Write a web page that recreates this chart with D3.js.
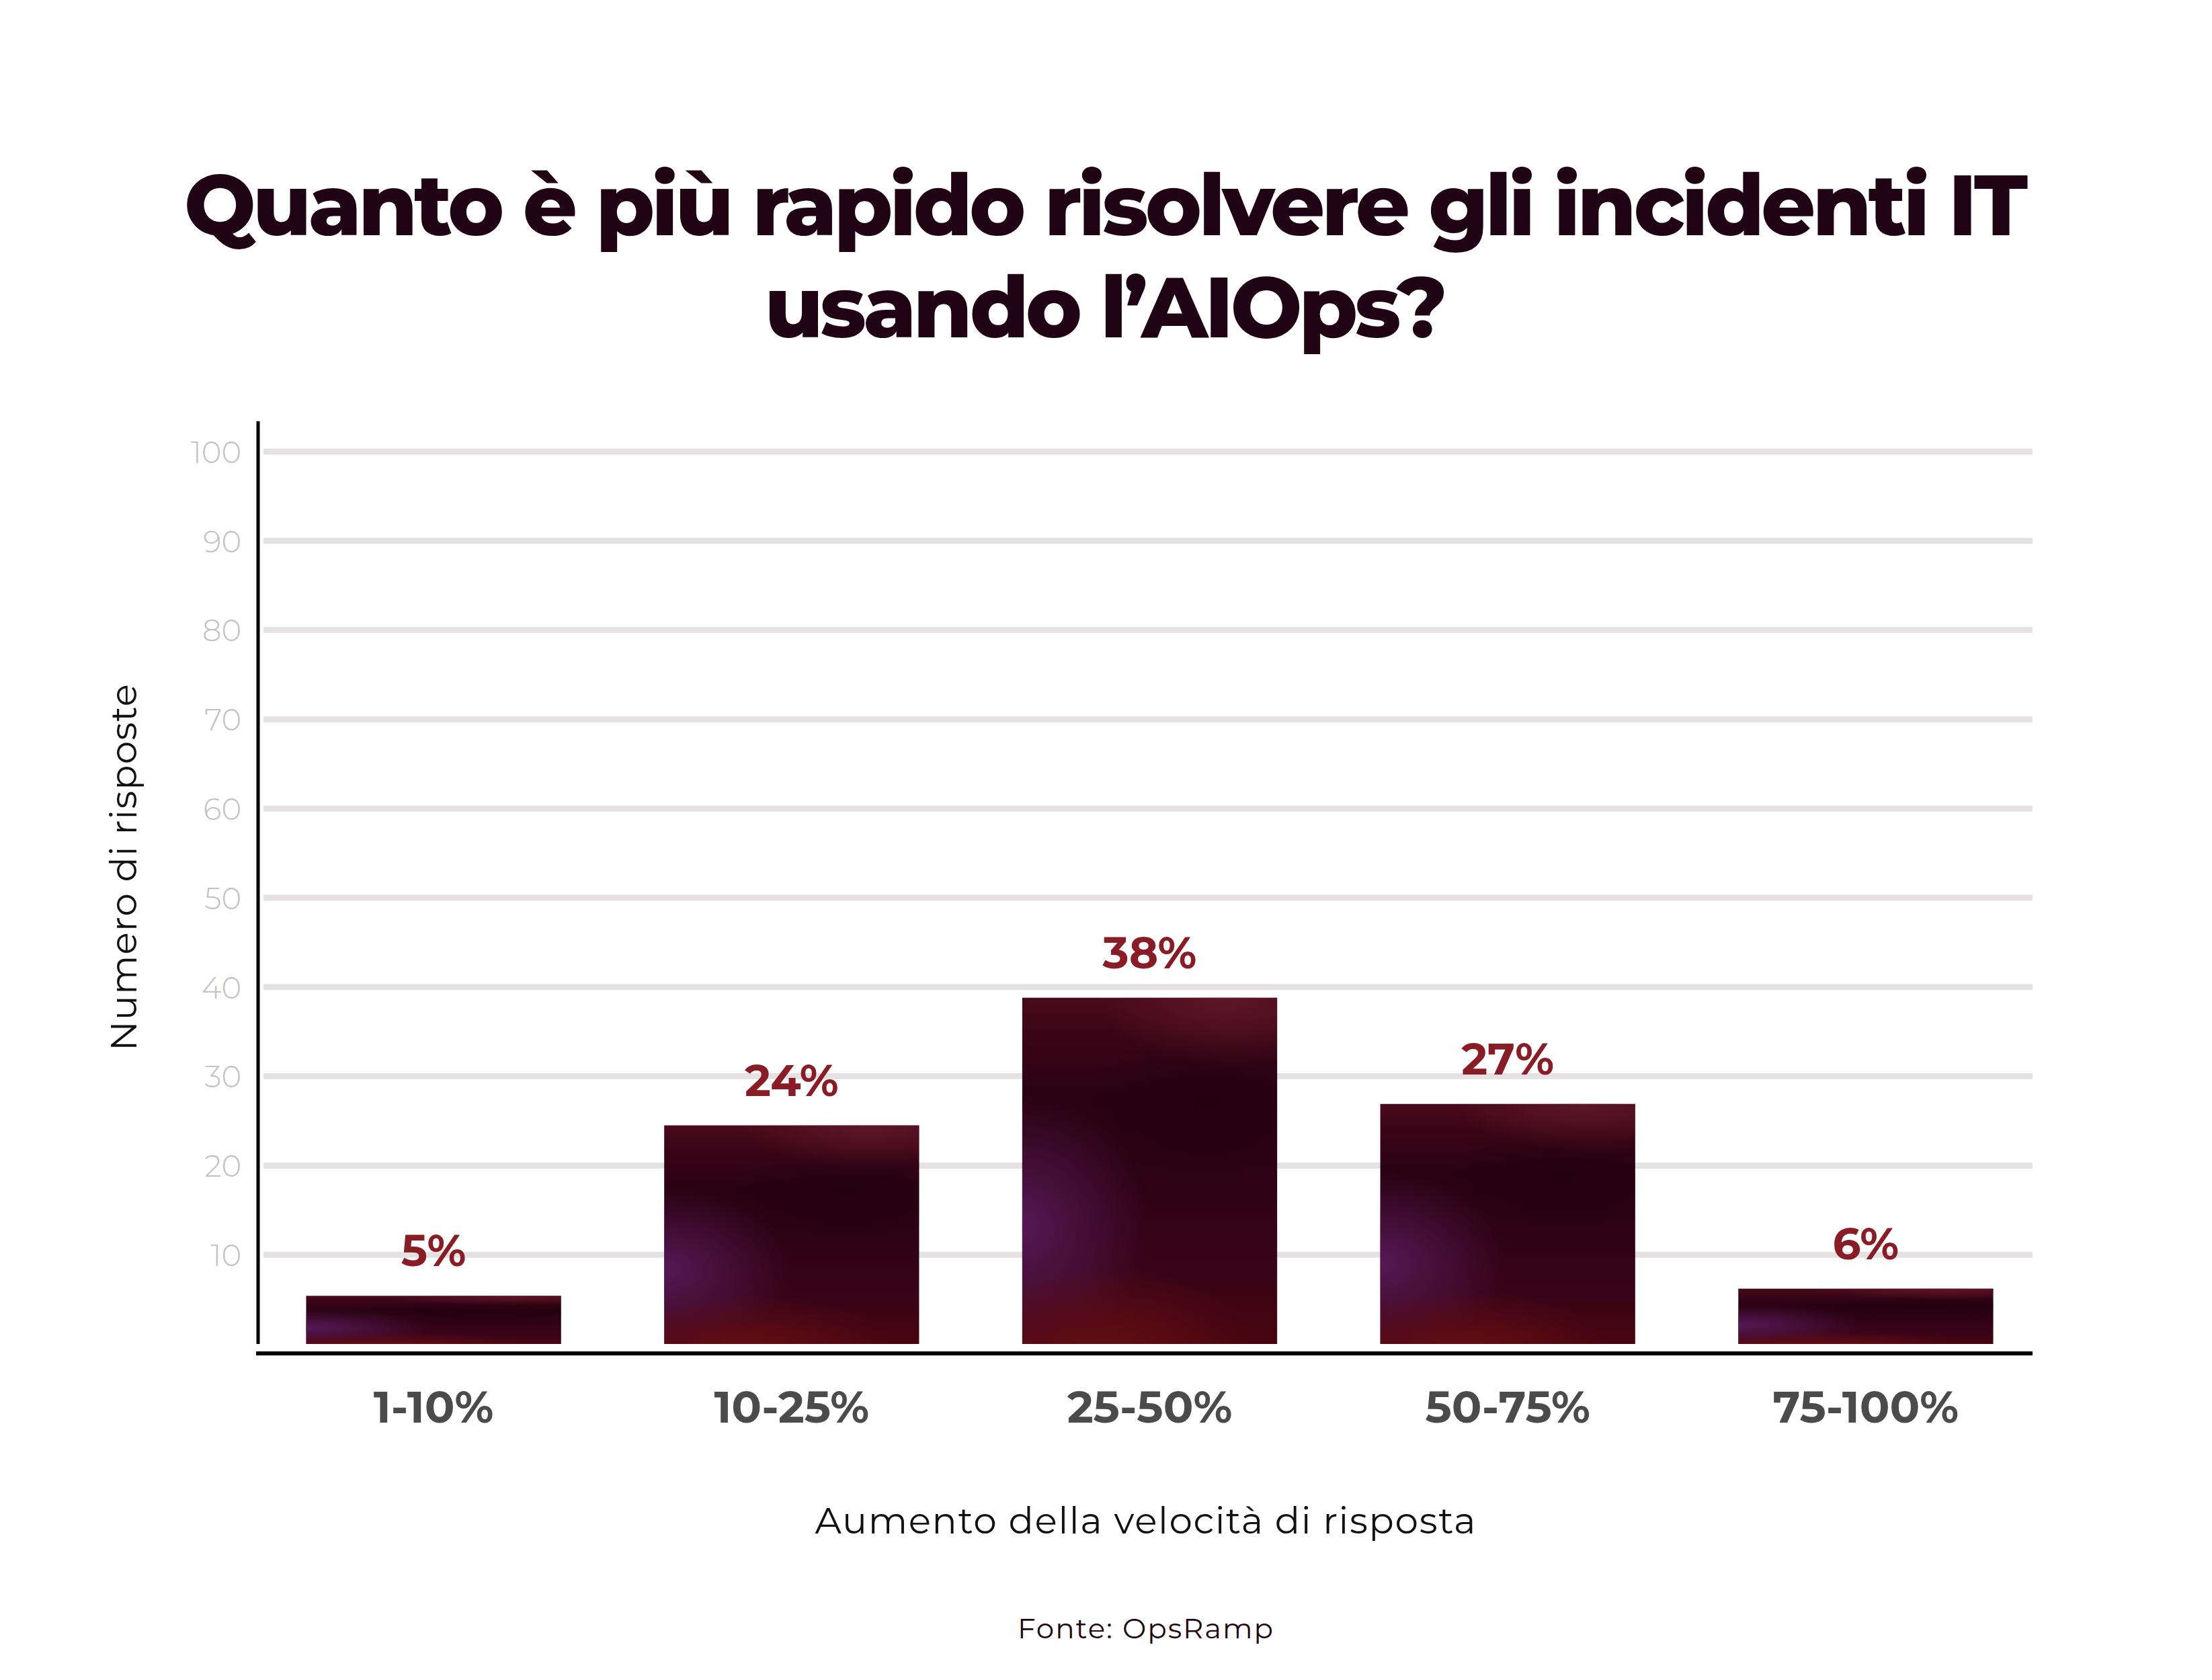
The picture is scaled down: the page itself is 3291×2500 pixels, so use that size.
<!DOCTYPE html>
<html>
<head>
<meta charset="utf-8">
<script src="https://cdn.jsdelivr.net/npm/d3@7"></script>
<style>
  html, body { margin: 0; padding: 0; background: #ffffff; }
  svg { display: block; }
</style>
</head>
<body>
<svg id="chart" width="3291" height="2500"></svg>
<script>
// ---------------- data ----------------
const titleLines = ["Quanto è più rapido risolvere gli incidenti IT", "usando l’AIOps?"];
const categories = ["1-10%", "10-25%", "25-50%", "50-75%", "75-100%"];
const values = [5.4, 24.5, 38.8, 26.9, 6.2];
const valueLabels = ["5%", "24%", "38%", "27%", "6%"];
const yTicks = [10, 20, 30, 40, 50, 60, 70, 80, 90, 100];
const yAxisTitle = "Numero di risposte";
const xAxisTitle = "Aumento della velocità di risposta";
const sourceText = "Fonte: OpsRamp";

// ---------------- layout ----------------
const W = 3291, H = 2500;
const plotLeft = 384, plotRight = 3024;
const yZero = 2000, yTop = 672;
const fontMain = "Montserrat, 'Open Sans', 'Noto Sans', sans-serif";

const svg = d3.select("#chart");
svg.append("rect").attr("width", W).attr("height", H).attr("fill", "#ffffff");

const x = d3.scaleBand()
  .domain(categories)
  .range([plotLeft, plotRight])
  .paddingInner(0.288)
  .paddingOuter(0.122)
  .align(0.55);

const y = d3.scaleLinear().domain([0, 100]).range([yZero, yTop]);

// ---------------- gradients ----------------
const defs = svg.append("defs");
const base = defs.append("linearGradient").attr("id", "gBase")
  .attr("x1", 0).attr("y1", 0).attr("x2", 0).attr("y2", 1);
[[0, "#480a1c"], [0.12, "#3a0517"], [0.28, "#2a0212"], [0.55, "#2e0214"], [0.8, "#3a0418"], [1, "#48050f"]]
  .forEach(([o, c]) => base.append("stop").attr("offset", o).attr("stop-color", c));

function radial(id, cx, cy, r, color, op, sx, sy) {
  const g = defs.append("radialGradient").attr("id", id)
    .attr("cx", cx).attr("cy", cy).attr("r", r);
  if (sx !== undefined) {
    g.attr("gradientTransform",
      `translate(${cx},${cy}) scale(${sx},${sy}) translate(${-cx},${-cy})`);
  }
  g.append("stop").attr("offset", 0).attr("stop-color", color).attr("stop-opacity", op);
  g.append("stop").attr("offset", 1).attr("stop-color", color).attr("stop-opacity", 0);
}
radial("gPurple", 0.0, 0.66, 0.5, "#561a58", 0.95, 1, 0.75);
radial("gRedBottom", 0.32, 1.05, 0.5, "#6a1016", 0.9, 1.2, 0.55);
radial("gRedTop", 0.8, 0.0, 0.5, "#62182a", 0.85, 1, 0.4);
radial("gDarkMid", 0.72, 0.3, 0.4, "#1f010d", 0.55, 1.2, 0.6);

// ---------------- gridlines ----------------
svg.append("g").selectAll("line").data(yTicks).join("line")
  .attr("x1", plotLeft + 8).attr("x2", plotRight)
  .attr("y1", d => y(d)).attr("y2", d => y(d))
  .attr("stroke", "#e6e2e3").attr("stroke-width", 9);

// ---------------- y tick labels ----------------
const yAxis = svg.append("g").attr("transform", `translate(${plotLeft},0)`)
  .call(d3.axisLeft(y).tickValues(yTicks).tickSize(0).tickPadding(25));
yAxis.select(".domain").remove();
yAxis.selectAll("text")
  .attr("font-family", fontMain).attr("font-weight", 300)
  .attr("font-size", 45).attr("fill", "#c4c0c6").attr("dy", "0.36em");

// ---------------- bars ----------------
const layers = ["url(#gBase)", "url(#gDarkMid)", "url(#gPurple)", "url(#gRedBottom)", "url(#gRedTop)"];
const barG = svg.append("g").selectAll("g").data(values).join("g");
layers.forEach(fill => {
  barG.append("rect")
    .attr("x", (d, i) => x(categories[i]))
    .attr("width", x.bandwidth())
    .attr("y", d => y(d))
    .attr("height", d => y(0) - y(d))
    .attr("fill", fill);
});

// value labels
svg.append("g").selectAll("text").data(values).join("text")
  .attr("x", (d, i) => x(categories[i]) + x.bandwidth() / 2)
  .attr("y", d => y(d) - 44)
  .attr("text-anchor", "middle")
  .attr("font-family", fontMain).attr("font-weight", 700)
  .attr("font-size", 66).attr("fill", "#8a1c25")
  .text((d, i) => valueLabels[i]);

// ---------------- axes lines ----------------
svg.append("line")
  .attr("x1", plotLeft).attr("x2", plotLeft)
  .attr("y1", y(0)).attr("y2", y(103.4))
  .attr("stroke", "#000").attr("stroke-width", 5);
svg.append("line")
  .attr("x1", plotLeft - 3).attr("x2", plotRight)
  .attr("y1", 2014).attr("y2", 2014)
  .attr("stroke", "#000").attr("stroke-width", 6);

// ---------------- x tick labels ----------------
const xAxis = svg.append("g").attr("transform", "translate(0,2014)")
  .call(d3.axisBottom(x).tickSize(0));
xAxis.select(".domain").remove();
xAxis.selectAll("text")
  .attr("y", 103).attr("dy", 0)
  .attr("font-family", fontMain).attr("font-weight", 700)
  .attr("font-size", 66).attr("fill", "#4b4b4b");

// ---------------- titles ----------------
function fitWidth(sel, target) {
  const w = sel.node().getComputedTextLength();
  if (Math.abs(w - target) / target > 0.01) {
    sel.attr("textLength", target).attr("lengthAdjust", "spacing");
  }
}

const titleY = [350, 502];
titleLines.forEach((t, i) => {
  const tt = svg.append("text")
    .attr("x", W / 2).attr("y", titleY[i])
    .attr("text-anchor", "middle")
    .attr("font-family", fontMain).attr("font-weight", 800)
    .attr("font-size", 126).attr("fill", "#200414")
    .text(t);
  fitWidth(tt, i === 0 ? 2743 : 1016);
});

const plotMid = (plotLeft + plotRight) / 2;
const yt = svg.append("text")
  .attr("transform", `translate(203,1291) rotate(-90)`)
  .attr("text-anchor", "middle")
  .attr("font-family", fontMain).attr("font-weight", 400)
  .attr("font-size", 55).attr("fill", "#111111")
  .text(yAxisTitle);
fitWidth(yt, 546);

const xt = svg.append("text")
  .attr("x", plotMid).attr("y", 2282)
  .attr("text-anchor", "middle")
  .attr("font-family", fontMain).attr("font-weight", 400)
  .attr("font-size", 55).attr("fill", "#111111")
  .text(xAxisTitle);
fitWidth(xt, 983);

const st = svg.append("text")
  .attr("x", plotMid).attr("y", 2438)
  .attr("text-anchor", "middle")
  .attr("font-family", fontMain).attr("font-weight", 400)
  .attr("font-size", 42).attr("fill", "#220612")
  .text(sourceText);
fitWidth(st, 380);
</script>
</body>
</html>
